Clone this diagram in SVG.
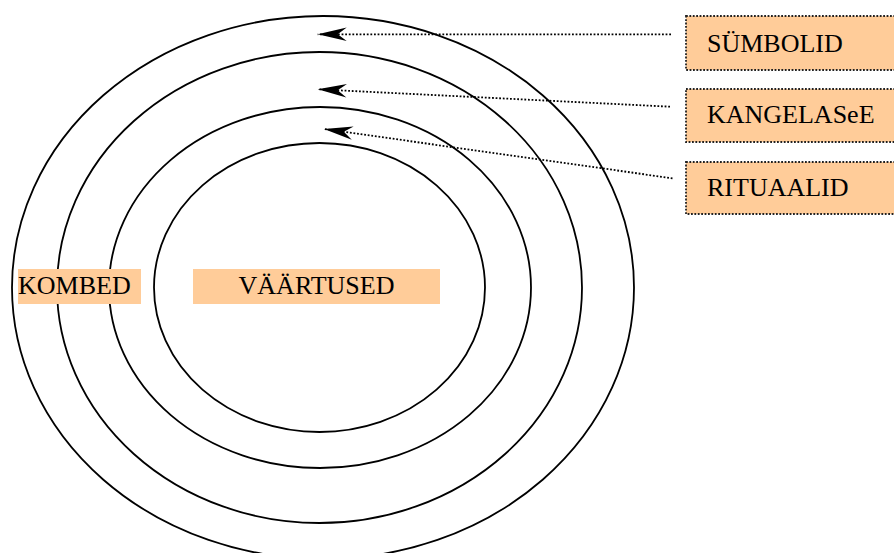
<svg xmlns="http://www.w3.org/2000/svg" width="894" height="553" viewBox="0 0 894 553">
<style>
.ring{fill:none;stroke:#000;stroke-width:1.8}
.box{fill:#FFCC99;stroke:#222;stroke-width:1.8;stroke-dasharray:1.8 1.6}
.lbl{fill:#FFCC99;stroke:none}
.t{font-family:"Liberation Serif","Times New Roman",serif;font-size:26px;fill:#000}
.conn{fill:none;stroke:#000;stroke-width:1.8;stroke-dasharray:1.8 1.8}
</style>
<defs>
<marker id="ah" viewBox="-30 -8 32 16" refX="0" refY="0" markerWidth="32" markerHeight="16" markerUnits="userSpaceOnUse" orient="auto">
<path d="M0,0 L-29,-6.7 L-20,0 L-29,6.7 Z" fill="#000"/>
</marker>
</defs>
<rect width="894" height="553" fill="#fff"/>
<g id="rings">
<ellipse id="ring-outer" class="ring" cx="323" cy="287.5" rx="311" ry="271.5"/>
<ellipse id="ring-2" class="ring" cx="319.5" cy="287.5" rx="262.5" ry="235.5"/>
<ellipse id="ring-3" class="ring" cx="320" cy="287.5" rx="211" ry="180.5"/>
<ellipse id="ring-inner" class="ring" cx="319.5" cy="287.5" rx="165.5" ry="144.5"/>
</g>
<g id="node-kombed">
<rect class="lbl" x="18" y="269" width="123" height="35"/>
<text class="t" x="18" y="294">KOMBED</text>
</g>
<g id="node-vaartused">
<rect class="lbl" x="193" y="269" width="247" height="35"/>
<text class="t" x="316.5" y="294" text-anchor="middle">VÄÄRTUSED</text>
</g>
<g id="node-symbolid">
<rect class="box" x="686" y="16" width="212" height="54"/>
<text class="t" x="707" y="52">SÜMBOLID</text>
</g>
<g id="node-kangelased">
<rect class="box" x="686" y="89" width="212" height="53"/>
<text class="t" x="707" y="123">KANGELASeE</text>
</g>
<g id="node-rituaalid">
<rect class="box" x="686" y="162" width="212" height="52"/>
<text class="t" x="707" y="196">RITUAALID</text>
</g>
<g id="connectors">
<line class="conn" x1="671" y1="34.3" x2="317.7" y2="34.3" marker-end="url(#ah)"/>
<line class="conn" x1="670" y1="106.7" x2="317.7" y2="89.3" marker-end="url(#ah)"/>
<line class="conn" x1="672.5" y1="178.3" x2="324" y2="129" marker-end="url(#ah)"/>
</g>
</svg>
